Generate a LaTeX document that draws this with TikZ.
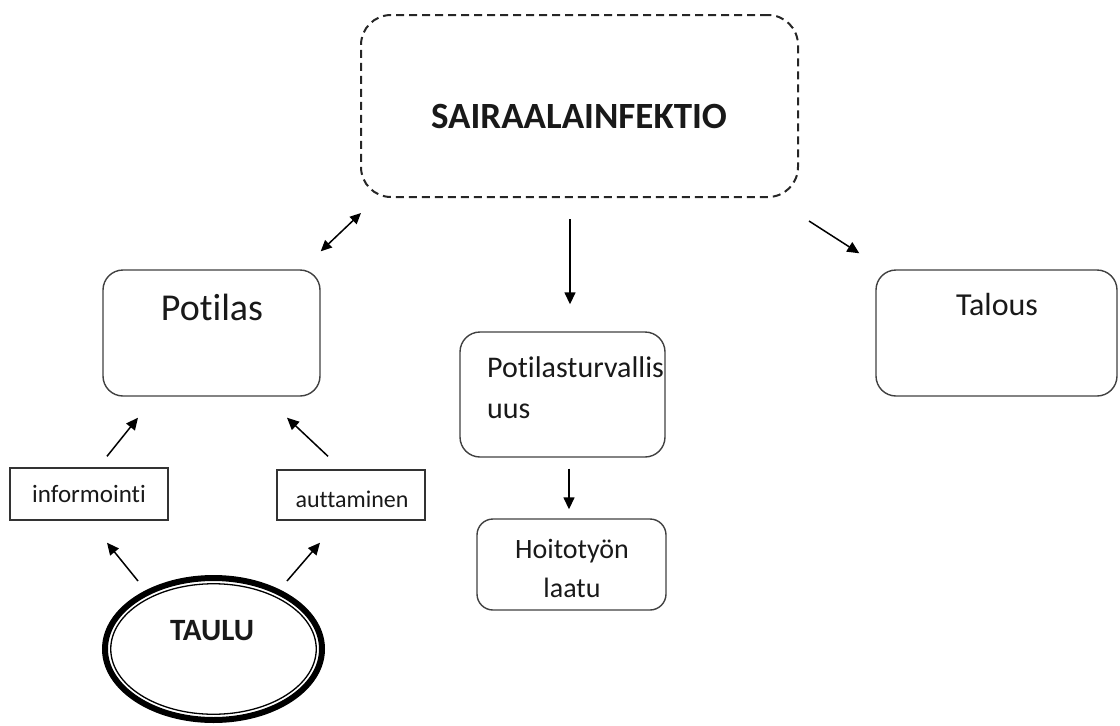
\documentclass[tikz,border=0pt]{standalone}
\usepackage{fontspec}
\setmainfont{Carlito}[Ligatures=NoCommon]
\usetikzlibrary{arrows.meta,shapes.geometric}
\newcommand{\setfs}[1]{\fontsize{#1pt}{#1pt}\selectfont}

\tikzset{
	rbox/.style={draw=black!75, line width=1.4pt, rounded corners=20pt, inner sep=0pt},
	sbox/.style={draw=black!80, line width=1.4pt, inner sep=0pt},
	dbox/.style={draw=black!85, line width=2pt, dash pattern=on 8pt off 5pt, rounded corners=30pt, inner sep=0pt},
	txt/.style={anchor=base, inner sep=0pt, text=black!90},
	arr/.style={line width=1.5pt, -{Triangle[length=12pt,width=11pt]}},
	darr/.style={line width=1.5pt, {Triangle[length=11pt,width=10pt]}-{Triangle[length=11pt,width=10pt]}},
}

\begin{document}
\begin{tikzpicture}[x=1pt, y=-1pt]
			%%%%% START %%%%%
			\useasboundingbox (0,0) rectangle (1120,726);
			
			\node[dbox, minimum width=437, minimum height=182] (sair) at (579.5,106) {};
			\node[txt, font=\setfs{37}\bfseries] (sairtxt) at (579,128) {SAIRAALAINFEKTIO};
			
			\node[rbox, minimum width=217, minimum height=126] (pot) at (211.5,333) {};
			\node[txt, font=\setfs{38}] (pottxt) at (212,320) {Potilas};
			
			\node[rbox, minimum width=241, minimum height=126] (tal) at (996.5,333) {};
			\node[txt, font=\setfs{32}] (taltxt) at (997,315) {Talous};
			
			\node[rbox, minimum width=205, minimum height=125] (ptv) at (562.5,394.5) {};
			\node[txt, anchor=base west, align=left, font=\fontsize{30pt}{41pt}\selectfont] (ptvtxt) at (487,418) {Potilasturvallis\\uus};
			
			\node[rbox, rounded corners=16pt, minimum width=189, minimum height=91] (hoi) at (571.5,564.5) {};
			\node[txt, align=center, font=\fontsize{28pt}{39pt}\selectfont] (hoitxt) at (572,597) {Hoitotyön\\laatu};
			
			\node[sbox, minimum width=158, minimum height=52] (inf) at (89,494) {};
			\node[txt, font=\setfs{25}] (inftxt) at (89,502) {informointi};
			
			\node[sbox, minimum width=148, minimum height=50] (aut) at (351,495) {};
			\node[txt, font=\setfs{24}] (auttxt) at (352,507) {auttaminen};
			
			\node[draw, ellipse, line width=6pt, minimum width=217, minimum height=142, inner sep=0pt] (tau) at (213.5,649) {};
			\draw[line width=1.3pt] (tau.center) ellipse [x radius=102.75pt, y radius=65.25pt];
			\node[txt, font=\setfs{31}\bfseries] (tautxt) at (212,640) {TAULU};
			
			% arrows
			\draw[darr] ([yshift=18pt]pot.north east) -- ([xshift=1pt,yshift=-15pt]sair.south west);
			\draw[arr] ([xshift=-9.5pt,yshift=-21pt]sair.south) -- ([xshift=7.5pt,yshift=27pt]ptv.north);
			\draw[arr] ([xshift=10pt,yshift=-23pt]sair.south east) -- ([xshift=-16pt,yshift=16pt]tal.north west);
			\draw[arr] ([xshift=6.5pt,yshift=-11pt]ptv.south) -- ([xshift=-2.5pt,yshift=9pt]hoi.north);
			
			\draw[arr] ([xshift=18pt,yshift=11pt]inf.north) -- ([xshift=-73.5pt,yshift=-21pt]pot.south);
			\draw[arr] ([xshift=-23pt,yshift=13pt]aut.north) -- ([xshift=75.5pt,yshift=-21pt]pot.south);
			\draw[arr] ([xshift=-75.5pt,yshift=-6pt]tau.north) -- ([xshift=18pt,yshift=-22pt]inf.south);
			\draw[arr] ([xshift=73.5pt,yshift=-6pt]tau.north) -- ([xshift=-31pt,yshift=-22pt]aut.south);
			
			%%%%% END %%%%%
\end{tikzpicture}
\end{document}
